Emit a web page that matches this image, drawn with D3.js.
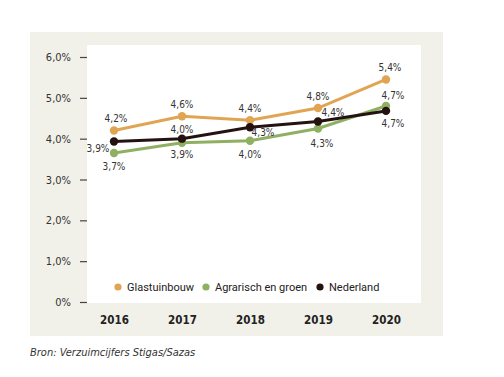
<!DOCTYPE html>
<html>
<head>
<meta charset="utf-8">
<script src="https://cdn.jsdelivr.net/npm/d3@7"></script>
<style>
  body { margin: 0; background: #fff; }
  svg { display: block; }
  text { font-family: "Liberation Sans Narrow", "DejaVu Sans Condensed", "Roboto", sans-serif; }
</style>
</head>
<body>
<svg id="grafiek"></svg>
<script>
const WIDTH = 504,
    HEIGHT = 377;

const jaren = ["2016", "2017", "2018", "2019", "2020"];
const glastuinbouw = [4.2, 4.55, 4.45, 4.75, 5.45];
const agrarisch = [3.65, 3.9, 3.95, 4.25, 4.8];
const nederland = [3.93, 4.0, 4.28, 4.42, 4.68];
const labelsGlas = ["4,2%", "4,6%", "4,4%", "4,8%", "5,4%"];
const labelsAgr = ["3,7%", "3,9%", "4,0%", "4,3%", "4,7%"];
const labelsNed = ["3,9%", "4,0%", "4,3%", "4,4%", "4,7%"];
const yTicks = [0, 1, 2, 3, 4, 5, 6];
const yTickLabels = ["0%", "1,0%", "2,0%", "3,0%", "4,0%", "5,0%", "6,0%"];
const reeksNamen = ["Glastuinbouw", "Agrarisch en groen", "Nederland"];

const kleuren = ["#e0a552", "#8fb062", "#231210"];

// label offsets per reeks/jaar [dx, dy]
const offsets = [
    [[2, -12], [0, -12], [0, -12], [0, -12], [4, -12]],
    [[0, 14], [0, 12], [0, 14], [4, 15], [7, -11]],
    [[-16, 7], [0, -9], [13, 5], [15, -9], [7, 13]]
];

const svg = d3.select("#grafiek")
    .attr("width", WIDTH)
    .attr("height", HEIGHT);

// achtergrond
svg.append("rect")
    .attr("x", 30).attr("y", 32)
    .attr("width", 413).attr("height", 304)
    .attr("fill", "#f1f1e9");

svg.append("rect")
    .attr("x", 87).attr("y", 45)
    .attr("width", 334).attr("height", 258)
    .attr("fill", "#ffffff");

const x = d3.scalePoint()
    .domain(jaren)
    .range([114, 386]);

const y = d3.scaleLinear()
    .domain([0, 6])
    .range([302, 57]);

// y-as
const ejeY = d3.axisLeft(y)
    .tickValues(yTicks)
    .tickFormat((d, i) => yTickLabels[i])
    .tickSize(7)
    .tickPadding(9);

const gY = svg.append("g")
    .attr("transform", "translate(87 0)")
    .call(ejeY);
gY.select(".domain").remove();
gY.selectAll(".tick line").attr("stroke", "#444").attr("stroke-width", 1.2);
gY.selectAll(".tick text")
    .attr("fill", "#333")
    .style("font-size", "11px")
    .style("font-family", "\"Liberation Sans Narrow\", \"DejaVu Sans Condensed\", sans-serif");

// x-as
const gX = svg.append("g")
    .attr("transform", "translate(0 302)")
    .call(d3.axisBottom(x).tickSize(0).tickPadding(14));
gX.select(".domain").remove();
gX.selectAll(".tick text")
    .attr("fill", "#222")
    .style("font-size", "11.5px")
    .style("font-weight", "bold")
    .style("font-family", "\"Liberation Sans Narrow\", \"DejaVu Sans Condensed\", sans-serif");

const reeksen = [glastuinbouw, agrarisch, nederland];
const labels = [labelsGlas, labelsAgr, labelsNed];

const lijn = d3.line()
    .x((d, i) => x(jaren[i]))
    .y(d => y(d));

// volgorde: groen, oranje, zwart bovenop
[1, 0, 2].forEach(k => {
    svg.append("path")
        .datum(reeksen[k])
        .attr("fill", "none")
        .attr("stroke", kleuren[k])
        .attr("stroke-width", 3)
        .attr("d", lijn);

    svg.append("g")
        .selectAll("circle")
        .data(reeksen[k])
        .join("circle")
        .attr("cx", (d, i) => x(jaren[i]))
        .attr("cy", d => y(d))
        .attr("r", 4.2)
        .attr("fill", kleuren[k]);
});

reeksen.forEach((reeks, k) => {
    svg.append("g")
        .selectAll("text")
        .data(reeks)
        .join("text")
        .attr("x", (d, i) => x(jaren[i]) + offsets[k][i][0])
        .attr("y", (d, i) => y(d) + offsets[k][i][1])
        .attr("dy", "0.35em")
        .attr("text-anchor", "middle")
        .attr("fill", "#333")
        .style("font-size", "10px")
        .text((d, i) => labels[k][i]);
});

// legenda
const legendaX = [118, 206, 320];
const legenda = svg.append("g");
reeksNamen.forEach((naam, k) => {
    legenda.append("circle")
        .attr("cx", legendaX[k])
        .attr("cy", 287)
        .attr("r", 3.6)
        .attr("fill", kleuren[k]);
    legenda.append("text")
        .attr("x", legendaX[k] + 9)
        .attr("y", 287)
        .attr("dy", "0.35em")
        .attr("fill", "#222")
        .style("font-size", "11px")
        .style("font-family", "Roboto, \"Liberation Sans\", sans-serif")
        .text(naam);
});

// bron
svg.append("text")
    .attr("x", 30)
    .attr("y", 356)
    .attr("fill", "#333")
    .style("font-size", "11px")
    .style("font-style", "italic")
    .text("Bron: Verzuimcijfers Stigas/Sazas");
</script>
</body>
</html>
